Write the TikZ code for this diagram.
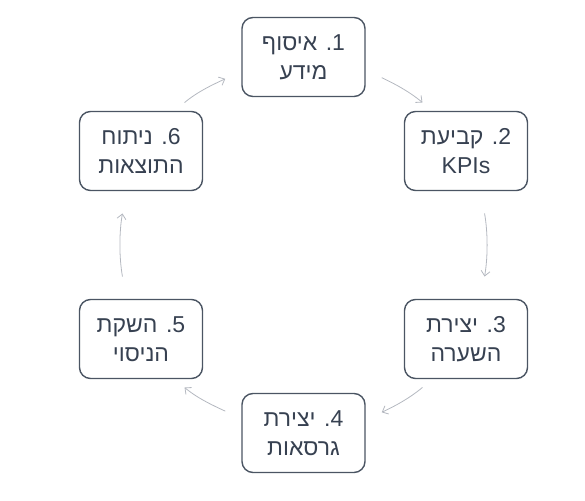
\documentclass[tikz,border=0pt]{standalone}
\usepackage{fontspec}
\newfontfamily\hebfont[Script=Hebrew]{Liberation Sans}
\TeXXeTstate=1
\usetikzlibrary{positioning,arrows.meta}
\definecolor{boxline}{HTML}{4B5563}
\definecolor{boxtext}{HTML}{374151}
\definecolor{arrowgray}{HTML}{B4B8C0}
\newcommand\steplabel[3]{\beginR #1\kern0pt. #2\endR\\\beginR #3\endR}
\tikzset{
  stepbox/.style={draw=boxline, line width=1.4pt, rounded corners=11pt,
    minimum width=123pt, minimum height=79pt, align=center, text=boxtext,
    font=\hebfont\fontsize{23}{29}\selectfont},
  flow/.style={->, color=arrowgray, line width=0.8pt}
}

\begin{document}
\begin{tikzpicture}[node distance=188pt,on grid,>={Straight Barb[length=5pt,width=9pt]}]
   \useasboundingbox (0,0) rectangle (585pt,500pt);
   \node[stepbox] (s_1) at (303.5pt,443pt) {\steplabel{1}{איסוף}{מידע}};
   \node[stepbox] (s_2) [below right=94pt and 162.5pt of s_1] {\steplabel{2}{קביעת}{KPIs}};
   \node[stepbox] (s_3) [below=of s_2] {\steplabel{3}{יצירת}{השערה}};
   \node[stepbox] (s_4) [below left=94pt and 162.5pt of s_3] {\steplabel{4}{יצירת}{גרסאות}};
   \node[stepbox] (s_5) [above left=94pt and 162.5pt of s_4] {\steplabel{5}{השקת}{הניסוי}};
   \node[stepbox] (s_6) [above=of s_5] {\steplabel{6}{ניתוח}{התוצאות}};
    \path[flow]
    (s_1.-12.5) edge [out=-25,in=140,shorten <=17.7pt,shorten >=12.8pt] (s_2.130)
    (s_2.-70)   edge [out=-80,in=80,shorten <=22.6pt,shorten >=22.6pt] (s_3.70)
    (s_3.-130)  edge [out=-140,in=25,shorten <=12.8pt,shorten >=17.7pt] (s_4.12.5)
    (s_4.167.5) edge [out=155,in=-40,shorten <=17.7pt,shorten >=12.8pt] (s_5.-50)
    (s_5.110)   edge [out=100,in=-100,shorten <=22.6pt,shorten >=22.6pt] (s_6.-110)
    (s_6.50)    edge [out=40,in=-155,shorten <=12.8pt,shorten >=17.7pt] (s_1.-167.5);
\end{tikzpicture}
\end{document}
